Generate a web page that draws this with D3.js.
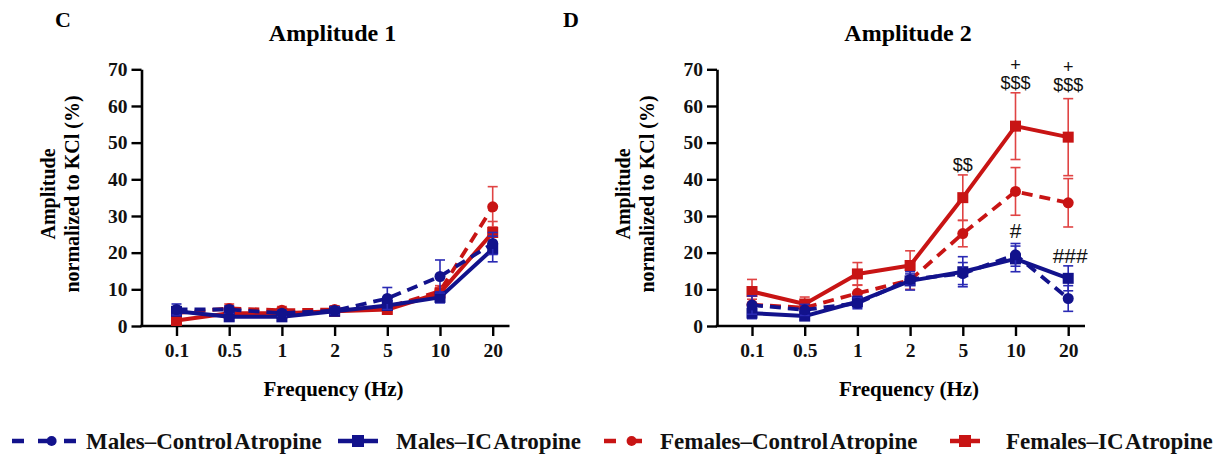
<!DOCTYPE html>
<html><head><meta charset="utf-8">
<script src="https://cdn.jsdelivr.net/npm/d3@7"></script>
<style>body{margin:0;background:#fff}</style>
</head><body>
<svg id="chart" width="1227" height="457"></svg>
<script>
const freqs = ["0.1","0.5","1","2","5","10","20"];
const yTicks = [0,10,20,30,40,50,60,70];
const seriesNames = ["Males–Control Atropine","Males–IC Atropine","Females–Control Atropine","Females–IC Atropine"];

// Panel C (Amplitude 1)
const c_malesControl   = [4.5, 4.5, 3.5, 4.2, 7.5, 13.5, 22.5];
const c_malesControlE  = [1.5, 1.0, 0.8, 1.0, 3.0, 4.5, 3.0];
const c_malesIC        = [4.0, 2.5, 2.5, 4.0, 5.6, 7.8, 21.0];
const c_malesICE       = [1.0, 1.0, 1.0, 1.0, 1.2, 1.5, 3.5];
const c_femalesControl = [3.5, 4.8, 4.3, 4.5, 5.0, 9.5, 32.5];
const c_femalesControlE= [1.0, 1.2, 1.0, 1.0, 1.0, 1.5, 5.5];
const c_femalesIC      = [1.5, 3.5, 3.5, 4.0, 4.5, 9.0, 25.5];
const c_femalesICE     = [1.0, 1.0, 1.0, 1.0, 1.0, 1.5, 3.0];

// Panel D (Amplitude 2)
const d_malesControl   = [5.7, 4.4, 6.2, 12.7, 14.3, 19.4, 7.5];
const d_malesControlE  = [2.5, 1.5, 1.5, 1.5, 3.0, 3.1, 3.5];
const d_malesIC        = [3.5, 2.7, 6.6, 12.3, 14.8, 18.3, 13.0];
const d_malesICE       = [1.5, 1.0, 1.5, 2.5, 4.1, 3.5, 3.4];
const d_femalesControl = [5.8, 5.0, 8.9, 12.5, 25.2, 36.7, 33.6];
const d_femalesControlE= [1.5, 1.5, 2.3, 2.5, 3.6, 6.5, 6.6];
const d_femalesIC      = [9.4, 6.0, 14.2, 16.5, 35.0, 54.5, 51.5];
const d_femalesICE     = [3.3, 1.9, 3.1, 4.0, 6.2, 9.1, 10.5];

// significance marks (panel D)
const annoText  = ["$$", "+", "$$$", "+", "$$$", "#", "###"];
const annoFreq  = ["5", "10", "10", "20", "20", "10", "20"];
const annoValue = [43.9, 71.2, 66.2, 70.7, 65.7, 26.0, 19.3];

const RED = "#c81414", BLUE = "#12128c", RED_E = "#e04444", BLUE_E = "#2a2ab4";
const styles = [
  {color: BLUE, ecolor: BLUE_E, dash: "11,7", marker: "circle"},
  {color: BLUE, ecolor: BLUE_E, dash: null, marker: "square"},
  {color: RED, ecolor: RED_E, dash: "11,7", marker: "circle"},
  {color: RED, ecolor: RED_E, dash: null, marker: "square"}
];

const svg = d3.select("#chart");
svg.append("rect").attr("width",1227).attr("height",457).attr("fill","#fff");

function serifText(sel){
  return sel.attr("font-family",null).style("font-family",'"Liberation Serif"').style("font-weight","bold");
}

function panel(cfg){
  const g = svg.append("g");
  const x0 = cfg.axisX, top = 69.3, bottom = 326;
  const y = d3.scaleLinear().domain([0,70]).range([bottom, top]);
  const x = d3.scalePoint().domain(freqs).range([x0+35, x0+35+6*52.7]);

  // y axis
  const ya = g.append("g").attr("transform",`translate(${x0},0)`)
    .call(d3.axisLeft(y).tickValues(yTicks).tickSize(10).tickSizeOuter(0).tickPadding(4));
  ya.attr("font-family",null);
  ya.select(".domain").attr("stroke","#000").attr("stroke-width",2.6);
  ya.selectAll(".tick line").attr("stroke","#000").attr("stroke-width",2.4);
  serifText(ya.selectAll(".tick text")).attr("font-size",19.5).attr("fill","#111");

  // x axis
  const xa = g.append("g").attr("transform",`translate(0,${bottom})`)
    .call(d3.axisBottom(x).tickSize(10).tickSizeOuter(0).tickPadding(7));
  xa.attr("font-family",null);
  xa.select(".domain").remove();
  xa.selectAll(".tick line").attr("stroke","#000").attr("stroke-width",2.4);
  serifText(xa.selectAll(".tick text")).attr("font-size",19.5).attr("fill","#111");
  g.append("line").attr("x1",x0-1.3).attr("x2",x0+368).attr("y1",bottom).attr("y2",bottom)
    .attr("stroke","#000").attr("stroke-width",2.6);

  // titles
  serifText(g.append("text")).attr("x",x0+191).attr("y",41).attr("text-anchor","middle")
    .attr("font-size",24).text(cfg.title);
  serifText(g.append("text")).attr("x",cfg.letterX).attr("y",27).attr("text-anchor","middle")
    .attr("font-size",22).text(cfg.letter);
  serifText(g.append("text")).attr("x",x0+192).attr("y",396).attr("text-anchor","middle")
    .attr("font-size",21).text("Frequency (Hz)");
  const yl = serifText(g.append("text")).attr("transform",`translate(${x0-87},194) rotate(-90)`)
    .attr("text-anchor","middle").attr("font-size",20);
  yl.append("tspan").attr("x",0).attr("dy",0).text("Amplitude");
  yl.append("tspan").attr("x",0).attr("dy",24).text("normalized to KCl (%)");

  // series: draw order females control, females IC, males IC, males control
  const order = [2,3,1,0];
  order.forEach(i=>{
    const st = styles[i], vals = cfg.values[i], errs = cfg.errors[i];
    const pts = freqs.map((f,k)=>({f, v: vals[k], e: errs[k]}));
    const eg = g.append("g");
    pts.forEach(p=>{
      const cx = x(p.f);
      eg.append("line").attr("x1",cx).attr("x2",cx).attr("y1",y(p.v+p.e)).attr("y2",y(Math.max(0,p.v-p.e)))
        .attr("stroke",st.ecolor).attr("stroke-width",1.6);
      [p.v+p.e, Math.max(0,p.v-p.e)].forEach(v=>{
        eg.append("line").attr("x1",cx-5).attr("x2",cx+5).attr("y1",y(v)).attr("y2",y(v))
          .attr("stroke",st.ecolor).attr("stroke-width",1.6);
      });
    });
    const line = d3.line().x(p=>x(p.f)).y(p=>y(p.v));
    g.append("path").datum(pts).attr("d",line).attr("fill","none").attr("stroke",st.color)
      .attr("stroke-width",st.dash?3.8:4).attr("stroke-dasharray",st.dash).attr("stroke-linejoin","round");
    pts.forEach(p=>{
      if(st.marker==="circle"){
        g.append("circle").attr("cx",x(p.f)).attr("cy",y(p.v)).attr("r",5.5).attr("fill",st.color);
      } else {
        g.append("rect").attr("x",x(p.f)-5.5).attr("y",y(p.v)-5.5).attr("width",11).attr("height",11).attr("fill",st.color);
      }
    });
  });

  if(cfg.annotate){
    annoText.forEach((t,k)=>{
      const isHash = t.startsWith("#");
      g.append("text").attr("x",x(annoFreq[k]) + (t==="###"?2:0)).attr("y",y(annoValue[k]))
        .attr("text-anchor","middle").attr("dominant-baseline","central")
        .style("font-family",'"Liberation Sans"').attr("font-size",isHash?21:18)
        .attr("fill","#111").text(t);
    });
  }
}

panel({axisX:141.5, title:"Amplitude 1", letter:"C", letterX:63,
  values:[c_malesControl,c_malesIC,c_femalesControl,c_femalesIC],
  errors:[c_malesControlE,c_malesICE,c_femalesControlE,c_femalesICE]});
panel({axisX:717, title:"Amplitude 2", letter:"D", letterX:571, annotate:true,
  values:[d_malesControl,d_malesIC,d_femalesControl,d_femalesIC],
  errors:[d_malesControlE,d_malesICE,d_femalesControlE,d_femalesICE]});

// legend
const legendX = [12, 338, 604, 950];
const legendSymW = [66, 40, 46, 30];
const legendTextX = [86, 396, 660, 1006];
const ly = 441;
const lg = svg.append("g");
seriesNames.forEach((name,i)=>{
  const st = styles[i];
  const sx = legendX[i], w = legendSymW[i];
  lg.append("line").attr("x1",sx).attr("x2",sx+w).attr("y1",ly).attr("y2",ly)
    .attr("stroke",st.color).attr("stroke-width",4.5).attr("stroke-dasharray",st.dash?"12,14":null);
  const cx = sx + w/2 + (st.dash? w*0.1:0);
  if(st.marker==="circle") lg.append("circle").attr("cx",cx).attr("cy",ly).attr("r",5).attr("fill",st.color);
  else lg.append("rect").attr("x",cx-6).attr("y",ly-6).attr("width",12).attr("height",12).attr("fill",st.color);
  serifText(lg.append("text")).attr("x",legendTextX[i]).attr("y",ly).attr("dominant-baseline","central")
    .attr("font-size",23).style("word-spacing","-3px").attr("fill","#111").text(name);
});
</script>
</body></html>
